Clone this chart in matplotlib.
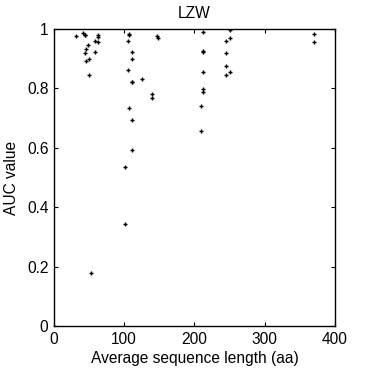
import numpy as np
import matplotlib
matplotlib.use("Agg")
import matplotlib.pyplot as plt

plt.rcParams.update({'font.size': 11.2})
plt.rcParams.update({'font.family': 'Liberation Sans'})
plt.rcParams.update({'axes.linewidth': 1})

# average sequence length (aa) and AUC value
seq_len = [31.8, 41.3, 43.7, 44.6, 63, 63, 58.8, 63, 48.4, 46, 58.8, 44.6, 50.3, 46, 50.3,
           106.3, 106.3, 105.8, 111.5, 111.5, 105.8, 111.5, 111.5, 125.7, 140, 140, 107.2, 111.5,
           146.6, 148.5, 111.5, 101.5, 101.5, 52.7,
           212.5, 251, 251, 245.3, 212.5, 212.5, 245.3, 212.5, 245.3, 251, 245.3,
           212.5, 212.5, 209.7, 209.7, 370.6, 370.6]
auc = [0.975, 0.986, 0.98, 0.978, 0.978, 0.973, 0.958, 0.954, 0.944, 0.933, 0.923, 0.917, 0.897, 0.89, 0.843,
       0.98, 0.982, 0.957, 0.923, 0.897, 0.86, 0.82, 0.822, 0.83, 0.779, 0.766, 0.732, 0.693,
       0.975, 0.967, 0.591, 0.535, 0.344, 0.18,
       0.99, 0.994, 0.967, 0.96, 0.922, 0.924, 0.917, 0.856, 0.873, 0.856, 0.843,
       0.799, 0.786, 0.739, 0.658, 0.983, 0.954]

fig = plt.figure(figsize=(3.7, 3.7), dpi=100)
ax = fig.add_axes([0.146, 0.1176, 0.759, 0.805])

ax.plot(seq_len, auc, ls="none", marker="+", ms=3.5, mew=1, color="k")

ax.set_xlim([0, 400])
ax.set_ylim([0, 1])
ax.set_xticks([0, 100, 200, 300, 400])
ax.set_yticks([0, 0.2, 0.4, 0.6, 0.8, 1])
ax.set_yticklabels(["0", "0.2", "0.4", "0.6", "0.8", "1"])
ax.tick_params(direction="in", top=True, right=True, length=3)
ax.tick_params(axis="x", pad=4)
ax.tick_params(axis="y", pad=4)
ax.set_xlabel("Average sequence length (aa)", labelpad=3)
ax.set_ylabel("AUC value", labelpad=6)
ax.set_title("LZW", fontsize=11.2, pad=7.5)

plt.savefig("out.png", dpi=100)
